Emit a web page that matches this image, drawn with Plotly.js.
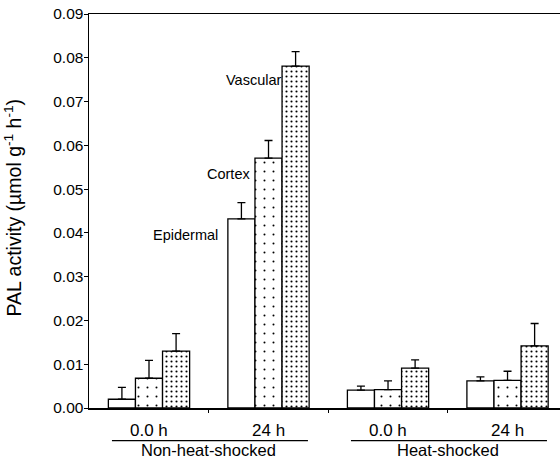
<!DOCTYPE html>
<html>
<head>
<meta charset="utf-8">
<script src="https://cdn.plot.ly/plotly-3.0.1.min.js"></script>
<style>html,body{margin:0;padding:0;background:#fff;}</style>
</head>
<body>
<div id="chart" style="width:560px;height:462px;"></div>
<script>
// Data
const groups = ["Non-heat 0.0 h", "Non-heat 24 h", "Heat 0.0 h", "Heat 24 h"];
const timeLabels = ["0.0 h", "24 h", "0.0 h", "24 h"];
const treatmentLabels = ["Non-heat-shocked", "Heat-shocked"];
const tissues = ["Epidermal", "Cortex", "Vascular"];
const epidermal = [0.0020, 0.0432, 0.0041, 0.0062];
const epidermalErr = [0.0027, 0.0037, 0.0009, 0.0009];
const cortex = [0.0068, 0.0571, 0.0042, 0.0063];
const cortexErr = [0.0041, 0.0040, 0.0020, 0.0021];
const vascular = [0.0130, 0.0781, 0.0091, 0.0142];
const vascularErr = [0.0040, 0.0033, 0.0019, 0.0051];
const yTicks = [0, 0.01, 0.02, 0.03, 0.04, 0.05, 0.06, 0.07, 0.08, 0.09];
const yTitle = "PAL activity (µmol g<sup>-1</sup> h<sup>-1</sup>)";

const xs = groups.map((g, i) => i);
const FONT = "Liberation Sans, Arial, sans-serif";

function mkTrace(name, vals, errs, pattern) {
  return {
    type: "bar", name: name, x: xs, y: vals,
    marker: {
      color: "#ffffff",
      line: {color: "#000", width: 1.3},
      pattern: pattern
    },
    error_y: {type: "data", symmetric: false, array: errs,
      arrayminus: errs.map(() => 0), color: "#000", thickness: 1.3, width: 4},
    hoverinfo: "none"
  };
}

const data = [
  mkTrace(tissues[0], epidermal, epidermalErr, {shape: ""}),
  mkTrace(tissues[1], cortex, cortexErr, {shape: ".", size: 9, solidity: 0.04, fgcolor: "#000", bgcolor: "#fff"}),
  mkTrace(tissues[2], vascular, vascularErr, {shape: ".", size: 5, solidity: 0.14, fgcolor: "#000", bgcolor: "#fff"})
];

const annotations = [];
timeLabels.forEach((t, i) => {
  annotations.push({x: i, y: -0.057, xref: "x", yref: "paper", text: t, showarrow: false,
    font: {family: FONT, size: 17, color: "#000"}, yanchor: "middle"});
});
treatmentLabels.forEach((t, k) => {
  annotations.push({x: 2 * k + 0.5, y: -0.134, xref: "x", yref: "paper", text: t, showarrow: false,
    font: {family: FONT, size: 16.5, color: "#000"}, yanchor: "bottom"});
});
// tissue labels next to the 24 h non-heat-shocked bars
const labelOffsets = [-0.27, 0, 0.27];
const tissueVals = [epidermal[1], cortex[1], vascular[1]];
tissues.forEach((t, j) => {
  annotations.push({x: 1 + labelOffsets[j] - 0.14, y: tissueVals[j], xref: "x", yref: "y",
    text: t, showarrow: false, xanchor: "right", yanchor: "middle", yshift: j === 2 ? -14 : -16,
    font: {family: FONT, size: 14.5, color: "#000"}});
});
// y-axis title
annotations.push({x: -0.162, y: 0.508, xref: "paper", yref: "paper", text: yTitle,
  showarrow: false, textangle: -90, xanchor: "center", yanchor: "middle",
  font: {family: FONT, size: 19.5, color: "#000"}});

const shapes = treatmentLabels.map((t, k) => ({
  type: "line", xref: "x", yref: "paper",
  x0: 2 * k - 0.31, x1: 2 * k + 1.33, y0: -0.083, y1: -0.083,
  line: {color: "#000", width: 1.3}
}));

const layout = {
  width: 560, height: 462,
  margin: {l: 89, r: 0, t: 14, b: 54},
  paper_bgcolor: "#fff", plot_bgcolor: "#fff",
  showlegend: false,
  barmode: "group", bargap: 0.32, bargroupgap: 0,
  font: {family: FONT, color: "#000"},
  xaxis: {
    range: [-0.502, 3.439], showgrid: false, zeroline: false,
    showline: true, linecolor: "#000", linewidth: 1.5, mirror: true,
    tickvals: [0.5, 1.5, 2.5], ticks: "outside", ticklen: 3, tickwidth: 1,
    tickcolor: "#000", showticklabels: false
  },
  yaxis: {
    range: [0, 0.09], showgrid: false, zeroline: false,
    showline: true, linecolor: "#000", linewidth: 1.5,
    tickvals: yTicks, tickformat: ".2f", ticks: "outside", ticklen: 4,
    ticklabelstandoff: -3,
    tickcolor: "#000", tickfont: {family: FONT, size: 15.5, color: "#000"}
  },
  annotations: annotations,
  shapes: shapes
};

Plotly.newPlot("chart", data, layout, {staticPlot: true, displayModeBar: false});
</script>
</body>
</html>
